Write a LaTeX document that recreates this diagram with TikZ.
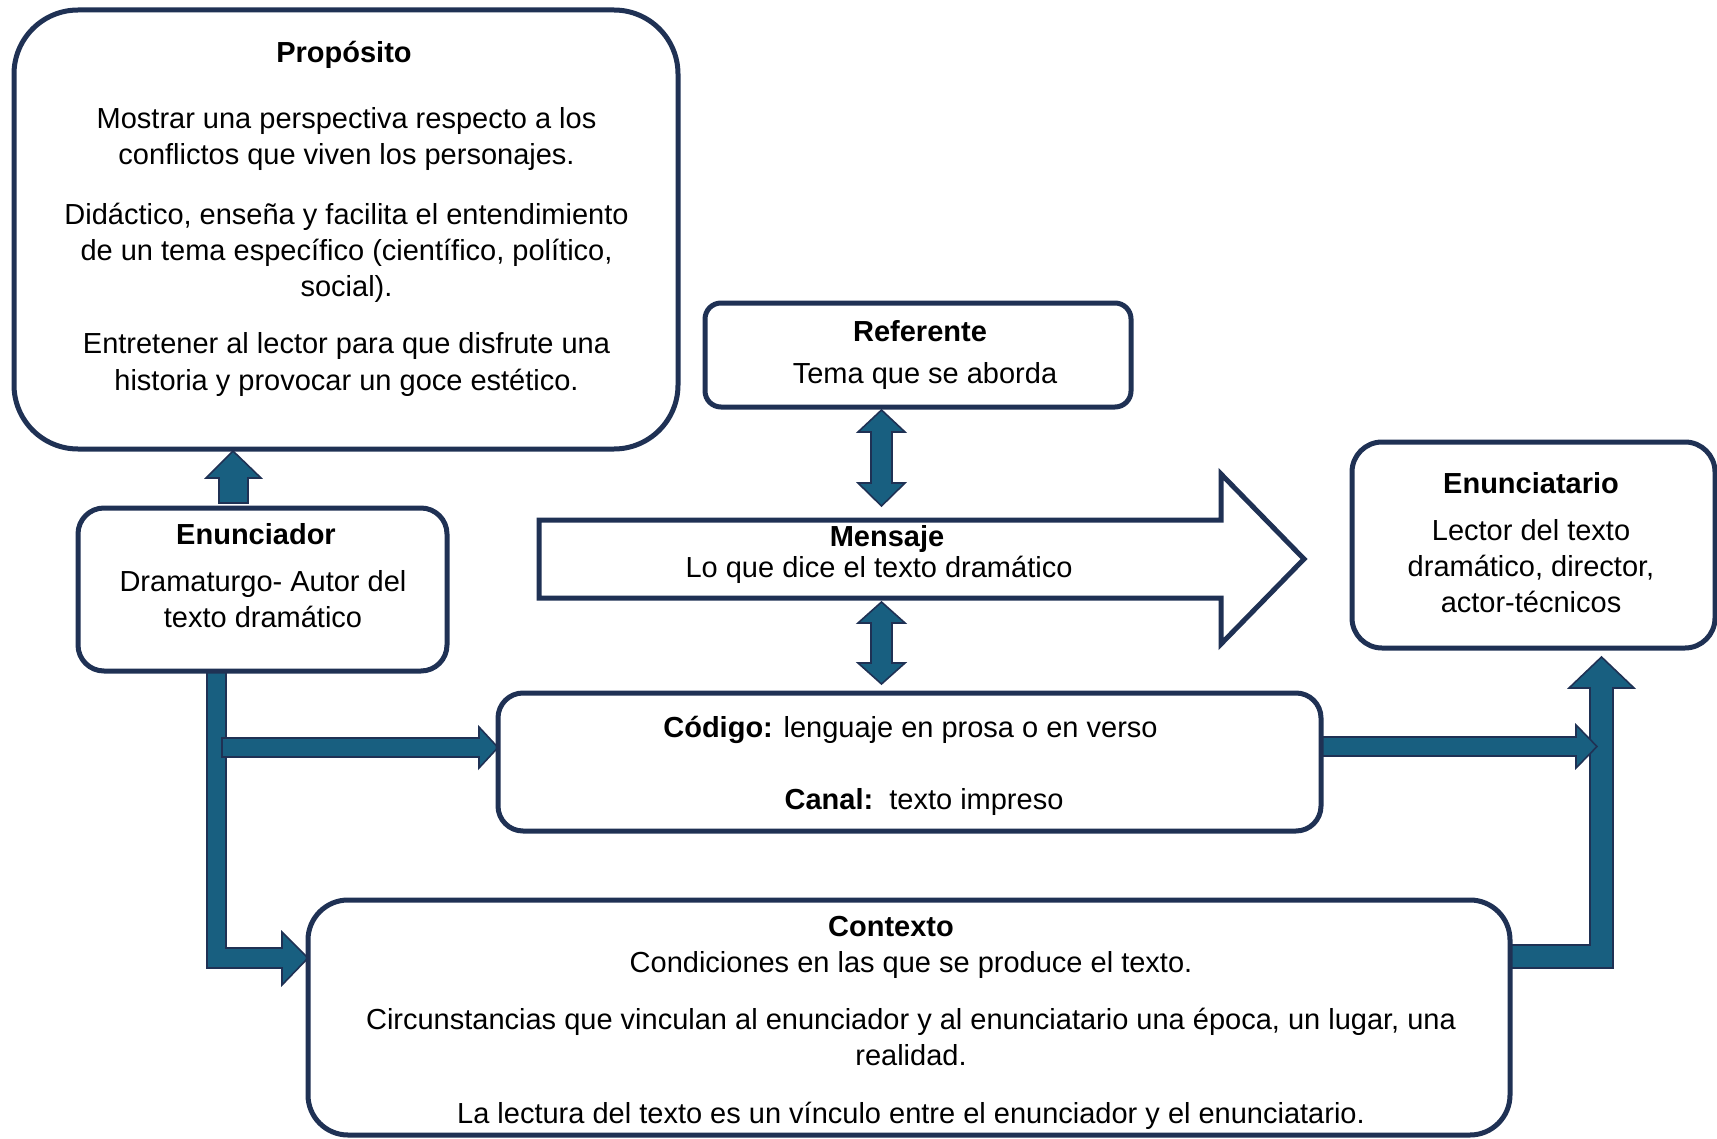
\documentclass[tikz,border=0pt]{standalone}
\usepackage{fontspec}
\setmainfont{Liberation Sans}
\usetikzlibrary{fit}
\definecolor{navy}{RGB}{31,49,84}
\definecolor{arrowfill}{RGB}{24,95,128}
\tikzset{
  box/.style={draw=navy, line width=2.5pt, fill=white, inner sep=0pt},
  blk/.style={fill=arrowfill, draw=navy, line width=0.8pt, line join=miter},
  txt/.style={align=center, inner sep=0pt, font=\fontsize{14.5pt}{18pt}\selectfont},
  ttl/.style={align=center, inner sep=0pt, font=\fontsize{14.5pt}{18pt}\selectfont\bfseries},
}
\begin{document}
\begin{tikzpicture}[x=0.5pt,y=-0.5pt]
\useasboundingbox (0,0) rectangle (1717,1139);

% ---- block arrows (drawn first, boxes cover their ends)
% Enunciador -> Proposito
\draw[blk] (219,503) -- (219,478) -- (206,478) -- (233,451) -- (261,478) -- (248,478) -- (248,503) -- cycle;
% Enunciador -> Contexto (L shape)
\draw[blk] (207,671) -- (207,968) -- (282,968) -- (282,985) -- (308,958) -- (282,932) -- (282,948) -- (226,948) -- (226,671) -- cycle;
% branch -> Codigo
\draw[blk] (222,738) -- (479,738) -- (479,727) -- (498,747.5) -- (479,768) -- (479,757) -- (222,757) -- cycle;
% Contexto -> Enunciatario (L shape)
\draw[blk] (1510,945) -- (1590,945) -- (1590,688) -- (1569,688) -- (1601.5,657) -- (1634,688) -- (1613,688) -- (1613,968) -- (1510,968) -- cycle;
% Codigo -> right
\draw[blk] (1322,737) -- (1576,737) -- (1576,725) -- (1597,746.5) -- (1576,768) -- (1576,756) -- (1322,756) -- cycle;
% Referente <-> Mensaje
\draw[blk] (881.5,410) -- (905,432) -- (892,432) -- (892,483) -- (905,483) -- (881.5,506) -- (858,483) -- (871,483) -- (871,432) -- (858,432) -- cycle;
% Mensaje <-> Codigo
\draw[blk] (881.5,602) -- (905,623) -- (892,623) -- (892,663) -- (905,663) -- (881.5,684) -- (858,663) -- (871,663) -- (871,623) -- (858,623) -- cycle;

% ---- boxes
\node[box, rounded corners=32pt, fit={(14,10)(678,449)}] (prop) {};
\node[box, rounded corners=13pt, fit={(78,508)(447,671)}] (enun) {};
\node[box, rounded corners=8pt, fit={(705,303)(1131,407)}] (ref) {};
\node[box, rounded corners=15pt, fit={(1352,442)(1715,648)}] (enta) {};
\node[box, rounded corners=12.5pt, fit={(498,693)(1321,831)}] (cod) {};
\node[box, rounded corners=20pt, fit={(308,900)(1510,1135)}] (ctx) {};

% Mensaje big outlined arrow
\draw[draw=navy, line width=2.5pt, fill=white, line join=miter]
  (539,520) -- (1221,520) -- (1221,474) -- (1304,559) -- (1221,644) -- (1221,598) -- (539,598) -- cycle;
\coordinate (mens) at (889,559);

% ---- texts
\node[ttl] (propT) at (344,54.5) {Propósito};
\node[txt] (propA) at (346.5,139.5) {Mostrar una perspectiva respecto a los\\conflictos que viven los personajes.};
\node[txt] (propB) at (346.5,252.5) {Didáctico, enseña y facilita el entendimiento\\de un tema específico (científico, político,\\social).};
\node[txt] (propC) at (346.5,364.5) {Entretener al lector para que disfrute una\\historia y provocar un goce estético.};

\node[ttl] (refT) at (920,331) {Referente};
\node[txt] (refA) at (925,375.5) {Tema que se aborda};

\node[ttl] (enunT) at (256,534) {Enunciador};
\node[txt] (enunA) at (263,599) {Dramaturgo- Autor del\\texto dramático};

\node[ttl] (mensT) at (887,539) {Mensaje};
\node[txt] (mensA) at (879,570) {Lo que dice el texto dramático};

\node[ttl] (entaT) at (1531,483) {Enunciatario};
\node[txt] (entaA) at (1531,566) {Lector del texto\\dramático, director,\\actor-técnicos};

\node[txt] (codA) at (910.5,729.5) {\textbf{Código:} lenguaje en prosa o en verso};
\node[txt] (codB) at (924,801.5) {\textbf{Canal:}\ \ texto impreso};

\node[ttl] (ctxT) at (891,927) {Contexto};
\node[txt] (ctxA) at (911,964.5) {Condiciones en las que se produce el texto.};
\node[txt] (ctxB) at (911,1037) {Circunstancias que vinculan al enunciador y al enunciatario una época, un lugar, una\\realidad.};
\node[txt] (ctxC) at (911,1116) {La lectura del texto es un vínculo entre el enunciador y el enunciatario.};
\end{tikzpicture}
\end{document}
